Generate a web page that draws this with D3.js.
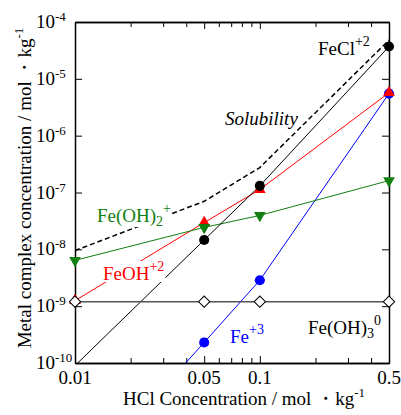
<!DOCTYPE html>
<html>
<head>
<meta charset="UTF-8">
<script src="https://cdnjs.cloudflare.com/ajax/libs/d3/7.8.5/d3.min.js"></script>
<style>
  body { margin: 0; background: #fff; }
</style>
</head>
<body>
<svg id="chart" width="401" height="415" font-family="'Liberation Serif', 'Times New Roman', Times, 'DejaVu Serif', serif"></svg>
<script>
// HCl concentration (mol/kg) and species concentrations (mol/kg)
var hcl = [0.01, 0.05, 0.1, 0.5];
var feCl = [9e-11, 1.46e-8, 1.31e-7, 3.7e-5];
var feOH = [1.25e-9, 2.95e-8, 1.13e-7, 5.7e-6];
var feOH2 = [6.4e-9, 2.43e-8, 3.95e-8, 1.62e-7];
var fe3 = [7e-13, 2.3e-10, 2.86e-9, 5.5e-6];
var feOH3 = [1.2e-9, 1.2e-9, 1.2e-9, 1.2e-9];
var solubility = [9.5e-9, 7.0e-8, 2.75e-7, 4.8e-5];

var xMajor = [0.01, 0.05, 0.1, 0.5];
var xMinor = [0.02, 0.03, 0.04, 0.06, 0.07, 0.08, 0.09, 0.2, 0.3, 0.4];
var yTicks = [1e-10, 1e-9, 1e-8, 1e-7, 1e-6, 1e-5, 1e-4];

var W = 401, H = 415;
var m = {left: 75, right: 12, top: 22, bottom: 52};
var svg = d3.select("#chart");

var x = d3.scaleLog().domain([0.01, 0.5]).range([m.left, W - m.right]);
var y = d3.scaleLog().domain([1e-10, 1e-4]).range([H - m.bottom, m.top]);

svg.append("clipPath").attr("id", "plot").append("rect")
  .attr("x", m.left).attr("y", m.top)
  .attr("width", W - m.left - m.right).attr("height", H - m.top - m.bottom);

// axes, ticks pointing inward
function axis(gen, tx, ty) {
  var g = svg.append("g").attr("transform", "translate(" + tx + "," + ty + ")").call(gen);
  g.attr("font-family", null);
  g.selectAll("text").remove();
  g.select(".domain").attr("stroke-width", 1.5);
  return g;
}
var bottomY = H - m.bottom, rightX = W - m.right;
axis(d3.axisBottom(x).tickValues(xMajor).tickSizeInner(-7).tickSizeOuter(0), 0, bottomY);
axis(d3.axisBottom(x).tickValues(xMinor).tickSizeInner(-5).tickSizeOuter(0), 0, bottomY);
axis(d3.axisTop(x).tickValues(xMajor).tickSizeInner(-7).tickSizeOuter(0), 0, m.top);
axis(d3.axisTop(x).tickValues(xMinor).tickSizeInner(-5).tickSizeOuter(0), 0, m.top);
axis(d3.axisLeft(y).tickValues(yTicks).tickSizeInner(-7).tickSizeOuter(0), m.left, 0);
axis(d3.axisRight(y).tickValues(yTicks).tickSizeInner(-7).tickSizeOuter(0), rightX, 0);

// tick labels
svg.selectAll(".xl").data(xMajor).enter().append("text")
  .attr("x", function (d) { return x(d); }).attr("y", bottomY + 21)
  .attr("text-anchor", "middle").attr("font-size", 19).text(function (d) { return d; });

yTicks.forEach(function (d) {
  var e = Math.round(Math.log10(d));
  svg.append("text").attr("x", 55).attr("y", y(d) + 6)
    .attr("text-anchor", "end").attr("font-size", 19).text("10");
  svg.append("text").attr("x", 55).attr("y", y(d) - 1)
    .attr("font-size", 13).text(String(e));
});

// axis titles
var xt = svg.append("text").attr("x", 244).attr("y", 405)
  .attr("text-anchor", "middle").attr("font-size", 19);
xt.append("tspan").text("HCl Concentration / mol \u30FBkg");
xt.append("tspan").attr("font-size", 13).attr("dy", -8).text("-1");

var yt = svg.append("text").attr("transform", "translate(31,188) rotate(-90)")
  .attr("text-anchor", "middle").attr("font-size", 19);
yt.append("tspan").text("Metal complex concentration / mol \u30FBkg");
yt.append("tspan").attr("font-size", 13).attr("dy", -8).text("-1");

// lines and markers
var line = d3.line()
  .x(function (d) { return x(d[0]); })
  .y(function (d) { return y(d[1]); });

function pairs(vals) { return hcl.map(function (h, i) { return [h, vals[i]]; }); }

var plot = svg.append("g").attr("clip-path", "url(#plot)");

plot.append("path").datum(pairs(solubility)).attr("d", line)
  .attr("fill", "none").attr("stroke", "#000").attr("stroke-width", 1.5)
  .attr("stroke-dasharray", "5,3");

var series = [
  {vals: fe3, color: "#0000ff", sym: d3.symbolCircle, size: 80, rot: 0},
  {vals: feOH, color: "#ff0000", sym: d3.symbolTriangle, size: 60, rot: 0},
  {vals: feOH2, color: "#108010", sym: d3.symbolTriangle, size: 60, rot: 180},
  {vals: feCl, color: "#000000", sym: d3.symbolCircle, size: 80, rot: 0}
];

series.forEach(function (s) {
  plot.append("path").datum(pairs(s.vals)).attr("d", line)
    .attr("fill", "none").attr("stroke", s.color).attr("stroke-width", 1);
});

// Fe(OH)3 flat line
plot.append("path").datum(pairs(feOH3)).attr("d", line)
  .attr("fill", "none").attr("stroke", "#555").attr("stroke-width", 1.5);

var marks = svg.append("g");
series.forEach(function (s) {
  marks.selectAll(null).data(pairs(s.vals).filter(function (d) { return d[1] >= 1e-10; }))
    .enter().append("path")
    .attr("d", d3.symbol().type(s.sym).size(s.size))
    .attr("transform", function (d) {
      return "translate(" + x(d[0]) + "," + y(d[1]) + ") rotate(" + s.rot + ")";
    })
    .attr("fill", s.color);
});
marks.selectAll(null).data(pairs(feOH3)).enter().append("path")
  .attr("d", d3.symbol().type(d3.symbolSquare).size(64))
  .attr("transform", function (d) {
    return "translate(" + x(d[0]) + "," + y(d[1]) + ") rotate(45)";
  })
  .attr("fill", "#fff").attr("stroke", "#000").attr("stroke-width", 1);

// species labels: parts = [text, shift] where shift is "sup", "sub" or ""
function label(lx, ly, parts, color, opts) {
  opts = opts || {};
  var g = svg.append("g");
  var t = g.append("text").attr("x", lx).attr("y", ly)
    .attr("font-size", 19).attr("fill", color);
  if (opts.italic) t.attr("font-style", "italic");
  var cur = 0;
  parts.forEach(function (p) {
    var target = p[1] === "sup" ? -9 : p[1] === "sub" ? 4 : 0;
    t.append("tspan").attr("dy", target - cur)
      .attr("font-size", p[1] ? 14 : 19).text(p[0]);
    cur = target;
  });
  if (opts.knockout) {
    var b = t.node().getBBox();
    g.insert("rect", "text").attr("x", b.x - 1).attr("y", b.y + 2)
      .attr("width", b.width + 2).attr("height", b.height - 4).attr("fill", "#fff");
  }
}

label(318, 55, [["FeCl", ""], ["+2", "sup"]], "#000");
label(225, 125, [["Solubility", ""]], "#000", {italic: true});
label(97, 222, [["Fe(OH)", ""], ["2", "sub"], ["+", "sup"]], "#108010", {knockout: true});
label(103, 280, [["FeOH", ""], ["+2", "sup"]], "#ff0000", {knockout: true});
label(230, 343, [["Fe", ""], ["+3", "sup"]], "#0000ff");
label(308, 334, [["Fe(OH)", ""], ["3", "sub"], ["0", "sup"]], "#000");
</script>
</body>
</html>
